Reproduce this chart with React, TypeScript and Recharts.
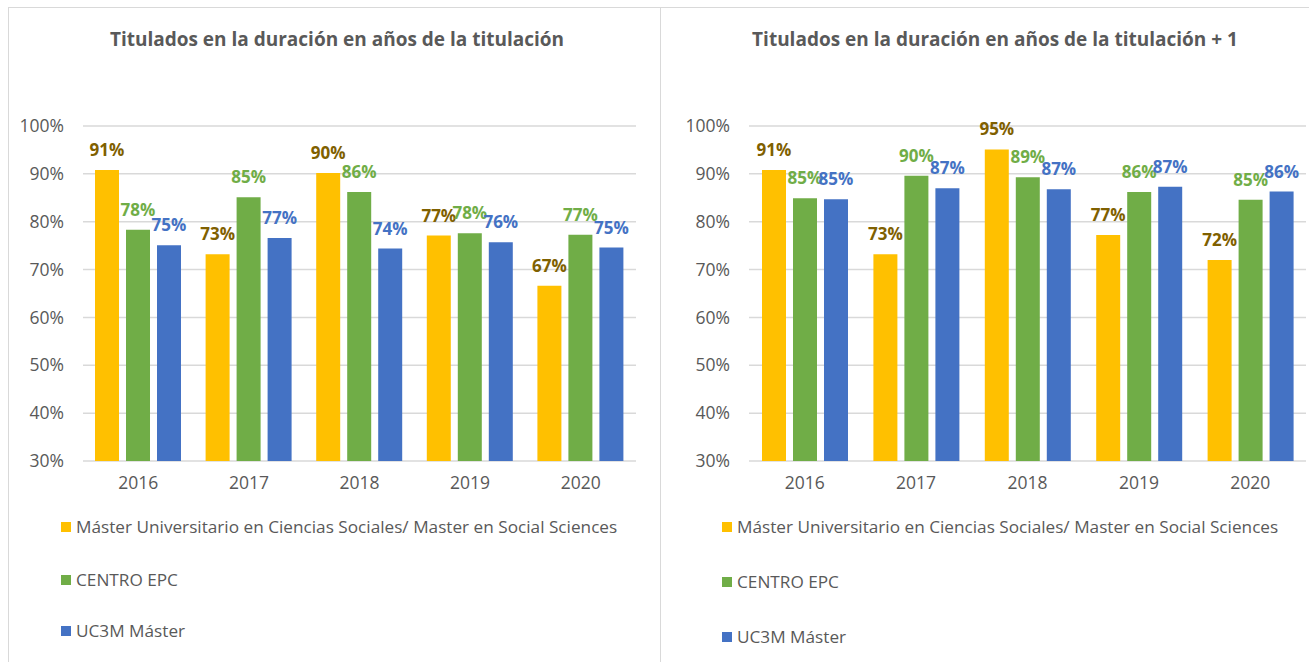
import { BarChart, Bar, XAxis, YAxis, CartesianGrid, LabelList } from 'recharts';

const years = ['2016', '2017', '2018', '2019', '2020'];
const yTicks = [30, 40, 50, 60, 70, 80, 90, 100];

const seriesNames = [
    'Máster Universitario en Ciencias Sociales/ Master en Social Sciences',
    'CENTRO EPC',
    'UC3M Máster',
];

// Titulados en la duración
const masterA = [90.8, 73.2, 90.2, 77.1, 66.6];
const centroA = [78.3, 85.1, 86.2, 77.6, 77.3];
const uc3mA = [75.1, 76.6, 74.4, 75.7, 74.6];

// Titulados en la duración + 1
const masterB = [90.8, 73.2, 95.1, 77.2, 72.0];
const centroB = [84.9, 89.6, 89.3, 86.2, 84.6];
const uc3mB = [84.7, 87.0, 86.8, 87.3, 86.3];

const barColors = ['#FFC000', '#70AD47', '#4472C4'];
const labelColors = ['#7F6000', '#70AD47', '#4472C4'];
const FONT = '"Open Sans", sans-serif';
const GREY = '#595959';

function buildData(a: number[], b: number[], c: number[]) {
    return years.map((year, i) => ({ year, s0: a[i], s1: b[i], s2: c[i] }));
}

interface PanelProps {
    title: string;
    titleCenter: number;
    data: Array<{ year: string; s0: number; s1: number; s2: number }>;
    left: number;
    width: number;
    marginLeft: number;
    marginRight: number;
    legendX: number;
    legendTops: number[];
}

function Panel({ title, titleCenter, data, left, width, marginLeft, marginRight, legendX, legendTops }: PanelProps) {
    return (
        <div style={{ position: 'absolute', left, top: 0, width, height: 662 }}>
            <div
                style={{
                    position: 'absolute',
                    left: titleCenter - 300,
                    top: 26,
                    width: 600,
                    textAlign: 'center',
                    fontFamily: FONT,
                    fontWeight: 700,
                    fontSize: 19,
                    color: GREY,
                    whiteSpace: 'nowrap',
                }}
            >
                {title}
            </div>
            <BarChart
                width={width}
                height={662}
                data={data}
                margin={{ top: 126, right: marginRight, bottom: 171, left: marginLeft }}
                barSize={24}
                barGap={7}
            >
                <CartesianGrid vertical={false} stroke="#d9d9d9" strokeWidth={1.5} />
                <XAxis
                    dataKey="year"
                    height={30}
                    axisLine={false}
                    tickLine={false}
                    tickSize={0}
                    tickMargin={16}
                    tick={{ fill: GREY, fontSize: 17.5, fontFamily: FONT }}
                />
                <YAxis
                    domain={[30, 100]}
                    ticks={yTicks}
                    width={60}
                    axisLine={false}
                    tickLine={false}
                    tickSize={0}
                    tickMargin={19}
                    tickFormatter={(v: number) => `${v}%`}
                    tick={{ fill: GREY, fontSize: 17.5, fontFamily: FONT }}
                />
                {['s0', 's1', 's2'].map((key, i) => (
                    <Bar key={key} dataKey={key} fill={barColors[i]} isAnimationActive={false}>
                        <LabelList
                            dataKey={key}
                            position="top"
                            offset={14}
                            formatter={(v: number) => `${Math.round(v)}%`}
                            style={{ fill: labelColors[i], fontSize: 17, fontWeight: 700, fontFamily: FONT }}
                        />
                    </Bar>
                ))}
            </BarChart>
            {seriesNames.map((name, i) => (
                <div
                    key={name}
                    style={{
                        position: 'absolute',
                        left: legendX,
                        top: legendTops[i] - 12,
                        display: 'flex',
                        alignItems: 'center',
                        fontFamily: FONT,
                        fontSize: 17.2,
                        color: GREY,
                        whiteSpace: 'nowrap',
                    }}
                >
                    <span style={{ width: 10, height: 10, background: barColors[i], marginRight: 5, display: 'inline-block' }} />
                    {name}
                </div>
            ))}
        </div>
    );
}

export default function App() {
    return (
        <div style={{ position: 'absolute', left: 0, top: 0, width: 1309, height: 662, background: '#fff', overflow: 'hidden' }}>
            <div style={{ position: 'absolute', left: 8, top: 7, width: 1301, height: 1, background: '#d9d9d9' }} />
            <div style={{ position: 'absolute', left: 8, top: 7, width: 1, height: 655, background: '#d9d9d9' }} />
            <div style={{ position: 'absolute', left: 660, top: 7, width: 1, height: 655, background: '#d9d9d9' }} />
            <Panel
                title="Titulados en la duración en años de la titulación"
                titleCenter={337}
                data={buildData(masterA, centroA, uc3mA)}
                left={0}
                width={660}
                marginLeft={23}
                marginRight={24}
                legendX={61}
                legendTops={[527, 580, 631]}
            />
            <Panel
                title="Titulados en la duración en años de la titulación + 1"
                titleCenter={334}
                data={buildData(masterB, centroB, uc3mB)}
                left={661}
                width={648}
                marginLeft={28}
                marginRight={3}
                legendX={61}
                legendTops={[527, 582, 637]}
            />
        </div>
    );
}
